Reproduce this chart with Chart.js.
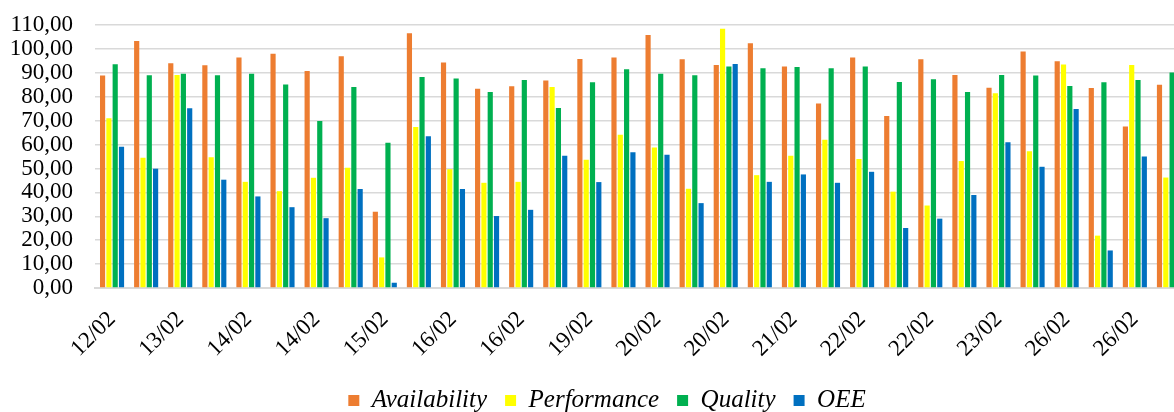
<!DOCTYPE html>
<html>
<head>
<meta charset="utf-8">
<script src="https://cdn.jsdelivr.net/npm/chart.js@4.4.1/dist/chart.umd.min.js"></script>
<style>
  html, body { margin: 0; padding: 0; background: #fff; overflow: hidden; }
  #wrap { width: 1214px; height: 423px; }
</style>
</head>
<body>
<div id="wrap"><canvas id="oeeChart" width="1214" height="423"></canvas></div>
<script>
// dias (so um em cada dois aparece no eixo)
const dias = [
    '12/02', '12/02', '13/02', '13/02', '14/02', '14/02', '14/02', '15/02',
    '15/02', '15/02', '16/02', '16/02', '16/02', '19/02', '19/02', '19/02',
    '20/02', '20/02', '20/02', '21/02', '21/02', '21/02', '22/02', '22/02',
    '22/02', '23/02', '23/02', '23/02', '26/02', '26/02', '26/02', '26/02'
];

const availability = [
    88.9, 103.3, 94.0, 93.2, 96.4, 98.0, 90.8, 96.9,
    31.9, 106.5, 94.3, 83.3, 84.4, 86.8, 95.8, 96.4,
    105.8, 95.7, 93.3, 102.4, 92.6, 77.2, 96.4, 71.9,
    95.7, 89.1, 83.8, 98.9, 94.8, 83.6, 67.5, 85.0
];
const performance = [
    71.0, 54.5, 89.1, 54.7, 44.4, 40.5, 46.1, 50.3,
    12.8, 67.3, 49.7, 44.0, 44.4, 84.1, 53.6, 64.1,
    58.8, 41.5, 108.4, 47.2, 55.3, 62.0, 54.0, 40.3,
    34.5, 53.1, 81.5, 57.2, 93.5, 21.9, 93.3, 46.2
];
const quality = [
    93.6, 89.0, 89.6, 89.0, 89.6, 85.1, 69.9, 84.1,
    60.7, 88.3, 87.6, 82.0, 87.0, 75.3, 86.1, 91.5,
    89.6, 89.0, 92.6, 91.9, 92.4, 91.9, 92.6, 86.2,
    87.3, 82.0, 89.1, 88.9, 84.5, 86.1, 87.0, 90.1
];
const oee = [
    59.1, 49.9, 75.2, 45.3, 38.3, 33.8, 29.2, 41.4,
    2.2, 63.5, 41.4, 30.1, 32.7, 55.3, 44.3, 56.8,
    55.7, 35.5, 93.7, 44.4, 47.5, 44.0, 48.6, 25.1,
    29.0, 38.9, 61.0, 50.7, 74.9, 15.7, 55.0, 35.5
];

const fonte = "'Liberation Serif', 'Times New Roman', serif";
const cinza = '#d9d9d9';

function serie(label, dados, cor) {
    return {
        label: label,
        data: dados,
        backgroundColor: cor,
        categoryPercentage: 0.74,
        barPercentage: 0.82
    };
}

// a legenda fica centrada no grafico inteiro (como no Excel), nao so na area util
const ajusteLegenda = {
    id: 'ajusteLegenda',
    afterLayout(chart) {
        chart.legend.left += 14;
        chart.legend.right += 14;
    }
};

const ctx = document.getElementById('oeeChart');

new Chart(ctx, {
    type: 'bar',
    plugins: [ajusteLegenda],
    data: {
        labels: dias,
        datasets: [
            serie('Availability', availability, '#ED7D31'),
            serie('Performance', performance, '#FFFF00'),
            serie('Quality', quality, '#00B050'),
            serie('OEE', oee, '#0070C0')
        ]
    },
    options: {
        responsive: false,
        animation: false,
        layout: {
            padding: { top: 25, right: 28, bottom: 0, left: 0 }
        },
        plugins: {
            tooltip: { enabled: false },
            legend: {
                position: 'bottom',
                labels: {
                    color: '#000',
                    boxWidth: 11,
                    boxHeight: 11,
                    padding: 18,
                    font: { family: fonte, size: 25, style: 'italic' }
                }
            }
        },
        scales: {
            x: {
                grid: { display: false, drawTicks: false },
                border: { display: true, color: cinza, width: 2 },
                ticks: {
                    color: '#000',
                    autoSkip: false,
                    minRotation: 45,
                    maxRotation: 45,
                    padding: 18,
                    font: { family: fonte, size: 23 },
                    callback: function(value, index) {
                        return index % 2 === 0 ? this.getLabelForValue(value) : '';
                    }
                },
                afterFit: function(scale) { scale.height = 82; }
            },
            y: {
                min: 0,
                max: 110,
                grid: {
                    color: cinza,
                    lineWidth: 1.5,
                    drawTicks: true,
                    tickLength: 15,
                    tickColor: 'rgba(0,0,0,0)'
                },
                border: { display: false },
                ticks: {
                    stepSize: 10,
                    autoSkip: false,
                    color: '#000',
                    padding: 7,
                    font: { family: fonte, size: 23 },
                    callback: value => value.toFixed(2).replace('.', ',')
                },
                afterFit: function(scale) { scale.width = 95; }
            }
        }
    }
});
</script>
</body>
</html>
